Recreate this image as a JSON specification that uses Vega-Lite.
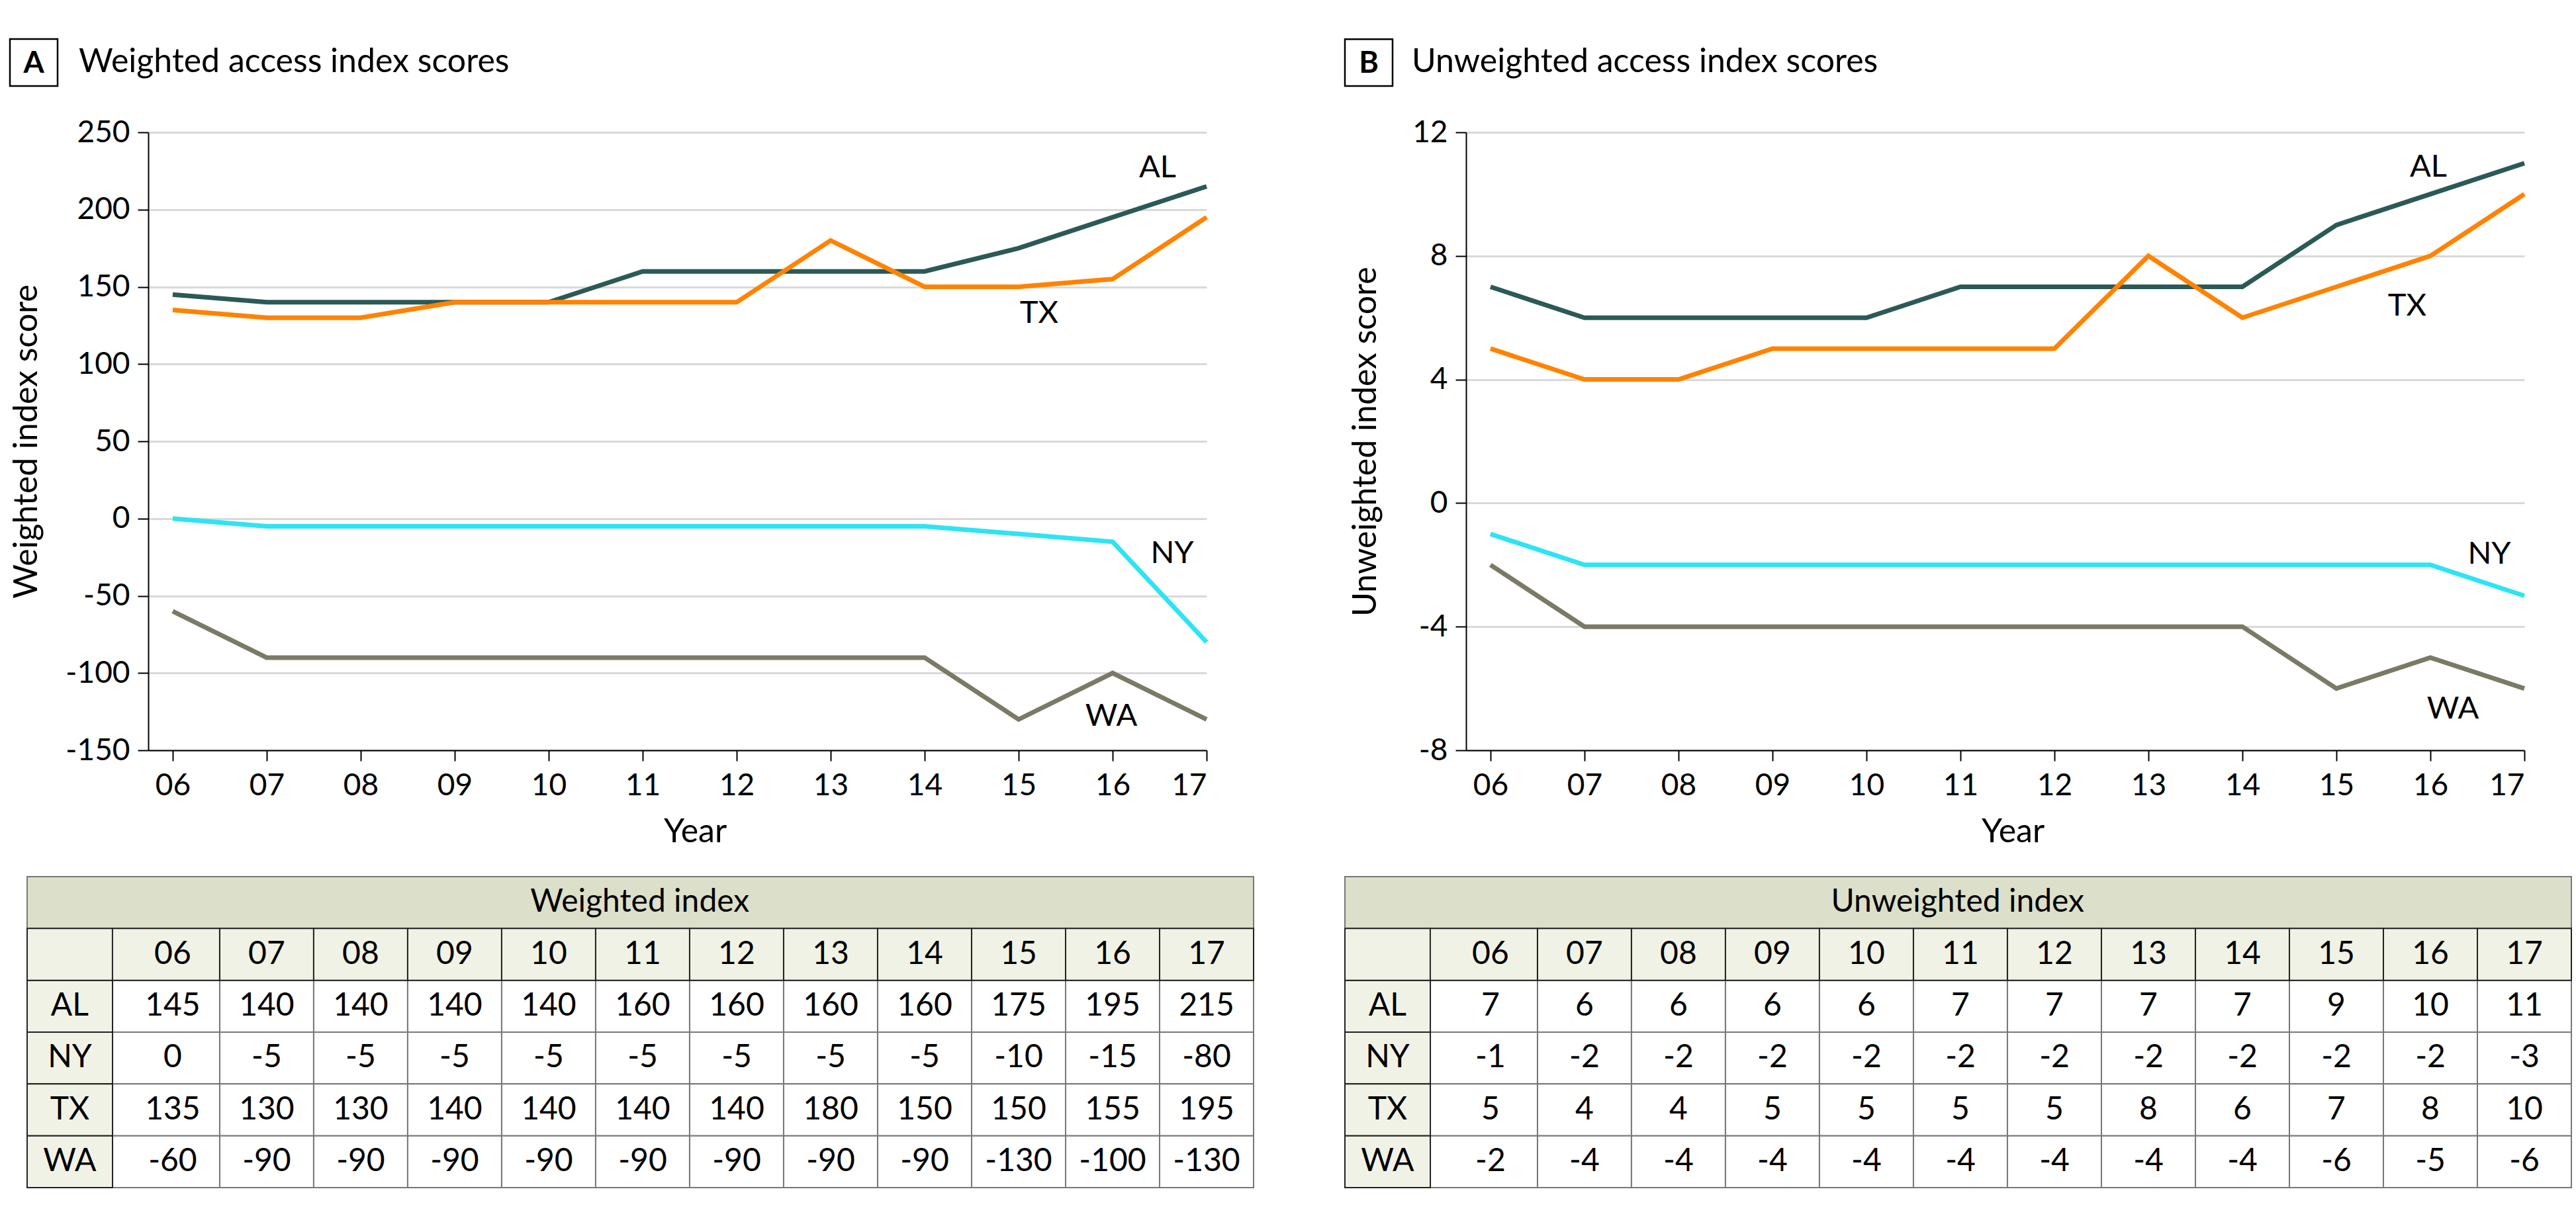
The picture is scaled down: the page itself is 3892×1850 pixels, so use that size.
{
  "$schema": "https://vega.github.io/schema/vega-lite/v6.json",
  "background": "white",
  "padding": {"left": 13, "top": 57, "right": 5, "bottom": 5},
  "columns": 2,
  "align": "each",
  "spacing": {"column": 134, "row": 42},
  "datasets": {
    "scores": [
      {"state":"AL","year":6,"w":145,"u":7},{"state":"AL","year":7,"w":140,"u":6},{"state":"AL","year":8,"w":140,"u":6},{"state":"AL","year":9,"w":140,"u":6},{"state":"AL","year":10,"w":140,"u":6},{"state":"AL","year":11,"w":160,"u":7},{"state":"AL","year":12,"w":160,"u":7},{"state":"AL","year":13,"w":160,"u":7},{"state":"AL","year":14,"w":160,"u":7},{"state":"AL","year":15,"w":175,"u":9},{"state":"AL","year":16,"w":195,"u":10},{"state":"AL","year":17,"w":215,"u":11},
      {"state":"NY","year":6,"w":0,"u":-1},{"state":"NY","year":7,"w":-5,"u":-2},{"state":"NY","year":8,"w":-5,"u":-2},{"state":"NY","year":9,"w":-5,"u":-2},{"state":"NY","year":10,"w":-5,"u":-2},{"state":"NY","year":11,"w":-5,"u":-2},{"state":"NY","year":12,"w":-5,"u":-2},{"state":"NY","year":13,"w":-5,"u":-2},{"state":"NY","year":14,"w":-5,"u":-2},{"state":"NY","year":15,"w":-10,"u":-2},{"state":"NY","year":16,"w":-15,"u":-2},{"state":"NY","year":17,"w":-80,"u":-3},
      {"state":"TX","year":6,"w":135,"u":5},{"state":"TX","year":7,"w":130,"u":4},{"state":"TX","year":8,"w":130,"u":4},{"state":"TX","year":9,"w":140,"u":5},{"state":"TX","year":10,"w":140,"u":5},{"state":"TX","year":11,"w":140,"u":5},{"state":"TX","year":12,"w":140,"u":5},{"state":"TX","year":13,"w":180,"u":8},{"state":"TX","year":14,"w":150,"u":6},{"state":"TX","year":15,"w":150,"u":7},{"state":"TX","year":16,"w":155,"u":8},{"state":"TX","year":17,"w":195,"u":10},
      {"state":"WA","year":6,"w":-60,"u":-2},{"state":"WA","year":7,"w":-90,"u":-4},{"state":"WA","year":8,"w":-90,"u":-4},{"state":"WA","year":9,"w":-90,"u":-4},{"state":"WA","year":10,"w":-90,"u":-4},{"state":"WA","year":11,"w":-90,"u":-4},{"state":"WA","year":12,"w":-90,"u":-4},{"state":"WA","year":13,"w":-90,"u":-4},{"state":"WA","year":14,"w":-90,"u":-4},{"state":"WA","year":15,"w":-130,"u":-6},{"state":"WA","year":16,"w":-100,"u":-5},{"state":"WA","year":17,"w":-130,"u":-6}
    ],
    "panels": [
      {"panel":"A","title":"Weighted access index scores","table":"Weighted index"},
      {"panel":"B","title":"Unweighted access index scores","table":"Unweighted index"}
    ]
  },
  "config": {
    "view": {"stroke": null},
    "font": "Lato",
    "text": {"color": "black", "font": "Lato"},
    "axis": {
      "domainColor": "black", "domainWidth": 2, "tickColor": "black", "tickWidth": 2, "tickSize": 16,
      "labelFont": "Lato", "labelFontSize": 46, "labelColor": "black",
      "titleFont": "Lato", "titleFontSize": 50, "titleFontWeight": "normal", "titleColor": "black",
      "gridColor": "#d9d9d9", "gridWidth": 3
    },
    "axisX": {"labelPadding": 15, "titlePadding": 22, "titleX": 826},
    "axisY": {"labelPadding": 12}
  },
  "concat": [
    {
      "width": 1599, "height": 934,
      "layer": [
        {
          "data": {"name": "scores"},
          "mark": {"type": "line", "strokeWidth": 7},
          "encoding": {
            "x": {"field": "year", "type": "quantitative", "scale": {"domain": [5.74, 17], "nice": false, "zero": false},
                  "axis": {"values": [6,7,8,9,10,11,12,13,14,15,16,17], "format": "02d", "title": "Year", "grid": false}},
            "y": {"field": "w", "type": "quantitative", "scale": {"domain": [-150, 250], "nice": false, "zero": false},
                  "axis": {"values": [-150,-100,-50,0,50,100,150,200,250], "labelExpr": "'' + datum.value", "title": "Weighted index score", "grid": true, "titlePadding": 33}},
            "color": {"field": "state", "type": "nominal", "scale": {"domain": ["AL","NY","TX","WA"], "range": ["#2b5a56","#2ee4f2","#ff8300","#7b7a66"]}, "legend": null}
          }
        },
        {"data": {"name": "scores"}, "transform": [{"filter": "datum.state == 'AL' && datum.year == 17"}],
         "mark": {"type": "text", "fontSize": 47, "dx": -74, "dy": -28},
         "encoding": {"x": {"field": "year", "type": "quantitative"}, "y": {"field": "w", "type": "quantitative"}, "text": {"field": "state"}}},
        {"data": {"name": "scores"}, "transform": [{"filter": "datum.state == 'TX' && datum.year == 15"}],
         "mark": {"type": "text", "fontSize": 47, "dx": 31, "dy": 40},
         "encoding": {"x": {"field": "year", "type": "quantitative"}, "y": {"field": "w", "type": "quantitative"}, "text": {"field": "state"}}},
        {"data": {"name": "scores"}, "transform": [{"filter": "datum.state == 'NY' && datum.year == 16"}],
         "mark": {"type": "text", "fontSize": 47, "dx": 90, "dy": 18},
         "encoding": {"x": {"field": "year", "type": "quantitative"}, "y": {"field": "w", "type": "quantitative"}, "text": {"field": "state"}}},
        {"data": {"name": "scores"}, "transform": [{"filter": "datum.state == 'WA' && datum.year == 16"}],
         "mark": {"type": "text", "fontSize": 47, "dx": -2, "dy": 66},
         "encoding": {"x": {"field": "year", "type": "quantitative"}, "y": {"field": "w", "type": "quantitative"}, "text": {"field": "state"}}},
        {"data": {"name": "panels"}, "transform": [{"filter": "datum.panel == 'A'"}],
         "mark": {"type": "rect", "fill": "white", "stroke": "black", "strokeWidth": 2.5},
         "encoding": {"x": {"datum": 4.2683}, "x2": {"datum": 4.7753}, "y": {"datum": 310.4}, "y2": {"datum": 279.98}}},
        {"data": {"name": "panels"}, "transform": [{"filter": "datum.panel == 'A'"}],
         "mark": {"type": "text", "fontSize": 45, "fontWeight": "bold", "align": "center", "baseline": "middle"},
         "encoding": {"x": {"datum": 4.5218}, "y": {"datum": 294.5}, "text": {"field": "panel"}}},
        {"data": {"name": "panels"}, "transform": [{"filter": "datum.panel == 'A'"}],
         "mark": {"type": "text", "fontSize": 50, "align": "left", "baseline": "middle"},
         "encoding": {"x": {"datum": 5.0006}, "y": {"datum": 295.4}, "text": {"field": "title"}}}
      ]
    },
    {
      "width": 1599, "height": 934,
      "layer": [
        {
          "data": {"name": "scores"},
          "mark": {"type": "line", "strokeWidth": 7},
          "encoding": {
            "x": {"field": "year", "type": "quantitative", "scale": {"domain": [5.74, 17], "nice": false, "zero": false},
                  "axis": {"values": [6,7,8,9,10,11,12,13,14,15,16,17], "format": "02d", "title": "Year", "grid": false}},
            "y": {"field": "u", "type": "quantitative", "scale": {"domain": [-8, 12], "nice": false, "zero": false},
                  "axis": {"values": [-8,-4,0,4,8,12], "labelExpr": "'' + datum.value", "title": "Unweighted index score", "grid": true, "titlePadding": 45}},
            "color": {"field": "state", "type": "nominal", "scale": {"domain": ["AL","NY","TX","WA"], "range": ["#2b5a56","#2ee4f2","#ff8300","#7b7a66"]}, "legend": null}
          }
        },
        {"data": {"name": "scores"}, "transform": [{"filter": "datum.state == 'AL' && datum.year == 16"}],
         "mark": {"type": "text", "fontSize": 47, "dx": -3, "dy": -40},
         "encoding": {"x": {"field": "year", "type": "quantitative"}, "y": {"field": "u", "type": "quantitative"}, "text": {"field": "state"}}},
        {"data": {"name": "scores"}, "transform": [{"filter": "datum.state == 'TX' && datum.year == 16"}],
         "mark": {"type": "text", "fontSize": 47, "dx": -35, "dy": 76},
         "encoding": {"x": {"field": "year", "type": "quantitative"}, "y": {"field": "u", "type": "quantitative"}, "text": {"field": "state"}}},
        {"data": {"name": "scores"}, "transform": [{"filter": "datum.state == 'NY' && datum.year == 16"}],
         "mark": {"type": "text", "fontSize": 47, "dx": 89, "dy": -16},
         "encoding": {"x": {"field": "year", "type": "quantitative"}, "y": {"field": "u", "type": "quantitative"}, "text": {"field": "state"}}},
        {"data": {"name": "scores"}, "transform": [{"filter": "datum.state == 'WA' && datum.year == 16"}],
         "mark": {"type": "text", "fontSize": 47, "dx": 34, "dy": 78},
         "encoding": {"x": {"field": "year", "type": "quantitative"}, "y": {"field": "u", "type": "quantitative"}, "text": {"field": "state"}}},
        {"data": {"name": "panels"}, "transform": [{"filter": "datum.panel == 'B'"}],
         "mark": {"type": "rect", "fill": "white", "stroke": "black", "strokeWidth": 2.5},
         "encoding": {"x": {"datum": 4.4513}, "x2": {"datum": 4.9583}, "y": {"datum": 15.016}, "y2": {"datum": 13.497}}},
        {"data": {"name": "panels"}, "transform": [{"filter": "datum.panel == 'B'"}],
         "mark": {"type": "text", "fontSize": 45, "fontWeight": "bold", "align": "center", "baseline": "middle"},
         "encoding": {"x": {"datum": 4.7048}, "y": {"datum": 14.225}, "text": {"field": "panel"}}},
        {"data": {"name": "panels"}, "transform": [{"filter": "datum.panel == 'B'"}],
         "mark": {"type": "text", "fontSize": 50, "align": "left", "baseline": "middle"},
         "encoding": {"x": {"datum": 5.1626}, "y": {"datum": 14.267}, "text": {"field": "title"}}}
      ]
    },
    {
      "width": 1599, "height": 470,
      "layer": [
        {"data": {"name": "panels"}, "transform": [{"filter": "datum.panel == 'A'"}],
         "mark": {"type": "rect", "fill": "#dcdfc9", "stroke": "#777777", "strokeWidth": 2},
         "encoding": {
           "x": {"datum": 4.4513, "type": "quantitative", "scale": {"domain": [5.74, 17], "nice": false, "zero": false}, "axis": null},
           "x2": {"datum": 17.5},
           "y": {"datum": "title", "type": "nominal", "scale": {"domain": ["title","year","AL","NY","TX","WA"], "paddingInner": 0, "paddingOuter": 0}, "axis": null}}},
        {"data": {"name": "scores"}, "transform": [{"filter": "datum.year > 6"}],
         "mark": {"type": "tick", "orient": "vertical", "thickness": 142, "size": 78.33, "fill": "white", "stroke": "#777777", "strokeWidth": 2, "opacity": 1, "filled": true},
         "encoding": {"x": {"field": "year", "type": "quantitative"}, "y": {"field": "state", "type": "nominal"}}},
        {"data": {"name": "scores"}, "transform": [{"filter": "datum.year == 6"}],
         "mark": {"type": "tick", "orient": "vertical", "thickness": 162, "xOffset": -10, "size": 78.33, "fill": "white", "stroke": "#777777", "strokeWidth": 2, "opacity": 1, "filled": true},
         "encoding": {"x": {"field": "year", "type": "quantitative"}, "y": {"field": "state", "type": "nominal"}}},
        {"data": {"name": "scores"}, "transform": [{"filter": "datum.year == 6"}],
         "mark": {"type": "rect", "fill": "#f1f2e6", "stroke": "#222222", "strokeWidth": 2},
         "encoding": {"x": {"datum": 4.4513}, "x2": {"datum": 5.36}, "y": {"field": "state", "type": "nominal"}}},
        {"data": {"name": "panels"}, "transform": [{"filter": "datum.panel == 'A'"}],
         "mark": {"type": "rect", "fill": "#f1f2e6", "stroke": "#222222", "strokeWidth": 2},
         "encoding": {"x": {"datum": 4.4513}, "x2": {"datum": 5.36}, "y": {"datum": "year", "type": "nominal"}}},
        {"data": {"name": "scores"}, "transform": [{"filter": "datum.state == 'AL' && datum.year > 6"}],
         "mark": {"type": "tick", "orient": "vertical", "thickness": 142, "size": 78.33, "fill": "#f1f2e6", "stroke": "#222222", "strokeWidth": 2, "opacity": 1, "filled": true},
         "encoding": {"x": {"field": "year", "type": "quantitative"}, "y": {"datum": "year", "type": "nominal"}}},
        {"data": {"name": "scores"}, "transform": [{"filter": "datum.state == 'AL' && datum.year == 6"}],
         "mark": {"type": "tick", "orient": "vertical", "thickness": 162, "xOffset": -10, "size": 78.33, "fill": "#f1f2e6", "stroke": "#222222", "strokeWidth": 2, "opacity": 1, "filled": true},
         "encoding": {"x": {"field": "year", "type": "quantitative"}, "y": {"datum": "year", "type": "nominal"}}},
        {"data": {"name": "panels"}, "transform": [{"filter": "datum.panel == 'A'"}],
         "mark": {"type": "text", "fontSize": 48, "align": "center", "baseline": "middle"},
         "encoding": {"x": {"datum": 10.97}, "y": {"datum": "title", "type": "nominal"}, "text": {"field": "table"}}},
        {"data": {"name": "scores"}, "transform": [{"filter": "datum.state == 'AL'"}],
         "mark": {"type": "text", "fontSize": 48, "align": "center", "baseline": "middle"},
         "encoding": {"x": {"field": "year", "type": "quantitative"}, "y": {"datum": "year", "type": "nominal"}, "text": {"field": "year", "type": "quantitative", "format": "02d"}}},
        {"data": {"name": "scores"}, "transform": [{"filter": "datum.year == 6"}],
         "mark": {"type": "text", "fontSize": 48, "align": "center", "baseline": "middle"},
         "encoding": {"x": {"datum": 4.905}, "y": {"field": "state", "type": "nominal"}, "text": {"field": "state"}}},
        {"data": {"name": "scores"},
         "mark": {"type": "text", "fontSize": 48, "align": "center", "baseline": "middle"},
         "encoding": {"x": {"field": "year", "type": "quantitative"}, "y": {"field": "state", "type": "nominal"}, "text": {"field": "w", "type": "nominal"}}}
      ]
    },
    {
      "width": 1599, "height": 470,
      "layer": [
        {"data": {"name": "panels"}, "transform": [{"filter": "datum.panel == 'B'"}],
         "mark": {"type": "rect", "fill": "#dcdfc9", "stroke": "#777777", "strokeWidth": 2},
         "encoding": {
           "x": {"datum": 4.4513, "type": "quantitative", "scale": {"domain": [5.74, 17], "nice": false, "zero": false}, "axis": null},
           "x2": {"datum": 17.5},
           "y": {"datum": "title", "type": "nominal", "scale": {"domain": ["title","year","AL","NY","TX","WA"], "paddingInner": 0, "paddingOuter": 0}, "axis": null}}},
        {"data": {"name": "scores"}, "transform": [{"filter": "datum.year > 6"}],
         "mark": {"type": "tick", "orient": "vertical", "thickness": 142, "size": 78.33, "fill": "white", "stroke": "#777777", "strokeWidth": 2, "opacity": 1, "filled": true},
         "encoding": {"x": {"field": "year", "type": "quantitative"}, "y": {"field": "state", "type": "nominal"}}},
        {"data": {"name": "scores"}, "transform": [{"filter": "datum.year == 6"}],
         "mark": {"type": "tick", "orient": "vertical", "thickness": 162, "xOffset": -10, "size": 78.33, "fill": "white", "stroke": "#777777", "strokeWidth": 2, "opacity": 1, "filled": true},
         "encoding": {"x": {"field": "year", "type": "quantitative"}, "y": {"field": "state", "type": "nominal"}}},
        {"data": {"name": "scores"}, "transform": [{"filter": "datum.year == 6"}],
         "mark": {"type": "rect", "fill": "#f1f2e6", "stroke": "#222222", "strokeWidth": 2},
         "encoding": {"x": {"datum": 4.4513}, "x2": {"datum": 5.36}, "y": {"field": "state", "type": "nominal"}}},
        {"data": {"name": "panels"}, "transform": [{"filter": "datum.panel == 'B'"}],
         "mark": {"type": "rect", "fill": "#f1f2e6", "stroke": "#222222", "strokeWidth": 2},
         "encoding": {"x": {"datum": 4.4513}, "x2": {"datum": 5.36}, "y": {"datum": "year", "type": "nominal"}}},
        {"data": {"name": "scores"}, "transform": [{"filter": "datum.state == 'AL' && datum.year > 6"}],
         "mark": {"type": "tick", "orient": "vertical", "thickness": 142, "size": 78.33, "fill": "#f1f2e6", "stroke": "#222222", "strokeWidth": 2, "opacity": 1, "filled": true},
         "encoding": {"x": {"field": "year", "type": "quantitative"}, "y": {"datum": "year", "type": "nominal"}}},
        {"data": {"name": "scores"}, "transform": [{"filter": "datum.state == 'AL' && datum.year == 6"}],
         "mark": {"type": "tick", "orient": "vertical", "thickness": 162, "xOffset": -10, "size": 78.33, "fill": "#f1f2e6", "stroke": "#222222", "strokeWidth": 2, "opacity": 1, "filled": true},
         "encoding": {"x": {"field": "year", "type": "quantitative"}, "y": {"datum": "year", "type": "nominal"}}},
        {"data": {"name": "panels"}, "transform": [{"filter": "datum.panel == 'B'"}],
         "mark": {"type": "text", "fontSize": 48, "align": "center", "baseline": "middle"},
         "encoding": {"x": {"datum": 10.97}, "y": {"datum": "title", "type": "nominal"}, "text": {"field": "table"}}},
        {"data": {"name": "scores"}, "transform": [{"filter": "datum.state == 'AL'"}],
         "mark": {"type": "text", "fontSize": 48, "align": "center", "baseline": "middle"},
         "encoding": {"x": {"field": "year", "type": "quantitative"}, "y": {"datum": "year", "type": "nominal"}, "text": {"field": "year", "type": "quantitative", "format": "02d"}}},
        {"data": {"name": "scores"}, "transform": [{"filter": "datum.year == 6"}],
         "mark": {"type": "text", "fontSize": 48, "align": "center", "baseline": "middle"},
         "encoding": {"x": {"datum": 4.905}, "y": {"field": "state", "type": "nominal"}, "text": {"field": "state"}}},
        {"data": {"name": "scores"},
         "mark": {"type": "text", "fontSize": 48, "align": "center", "baseline": "middle"},
         "encoding": {"x": {"field": "year", "type": "quantitative"}, "y": {"field": "state", "type": "nominal"}, "text": {"field": "u", "type": "nominal"}}}
      ]
    }
  ]
}
